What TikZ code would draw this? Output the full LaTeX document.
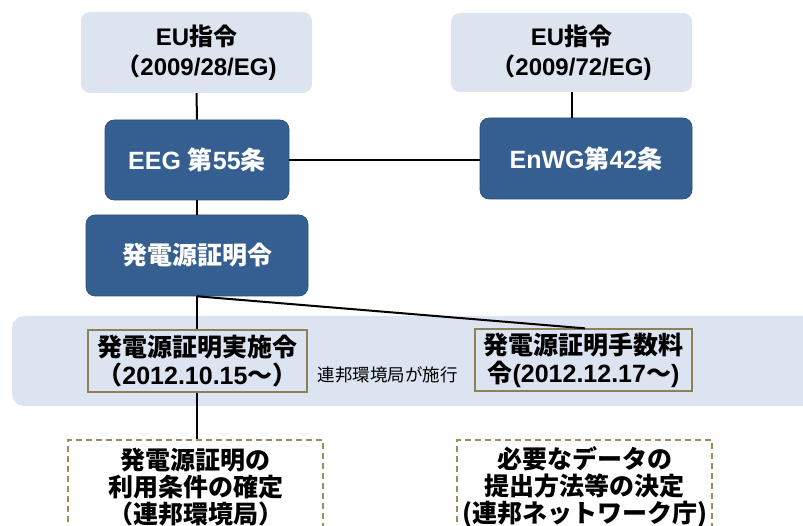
\documentclass[tikz,border=0pt]{standalone}
\usepackage{fontspec}
\setmainfont{Liberation Sans}
\newfontfamily\cjk{Noto Sans CJK JP}
\newcommand\J[1]{{\cjk #1}}
\definecolor{lightfill}{RGB}{220,228,240}
\definecolor{darkfill}{RGB}{54,95,145}
\definecolor{bandfill}{RGB}{219,228,240}
\definecolor{olive}{RGB}{140,128,88}
\definecolor{tan}{RGB}{160,140,90}
\tikzset{
  lightbox/.style={fill=lightfill, rounded corners=9pt, align=center, font=\bfseries\fontsize{24}{30}\selectfont, inner sep=0pt},
  darkbox/.style={fill=darkfill, draw=darkfill!80!black, line width=0.6pt, rounded corners=9pt, align=center, text=white, font=\bfseries\fontsize{25}{30}\selectfont, inner sep=0pt},
  lawbox/.style={fill=bandfill, draw=olive, line width=1.3pt, align=center, font=\bfseries\fontsize{25}{28}\selectfont, inner sep=0pt},
  taskbox/.style={draw=tan, dash pattern=on 6pt off 4pt, line width=1.2pt, align=center, font=\bfseries\fontsize{25}{27}\selectfont, inner sep=0pt},
  conn/.style={line width=2pt, black}
}
\begin{document}
\begin{tikzpicture}[x=1pt,y=-1pt]
\useasboundingbox (0,0) rectangle (803,526);
\clip (0,0) rectangle (803,526);
% band
\fill[bandfill, rounded corners=12pt] (12,316) rectangle (830,406);
% boxes
\node[lightbox, minimum width=231pt, minimum height=81pt] (eu1) at (196.5,52.5) {EU\J{指令}\\\J{（}2009/28/EG)};
\node[lightbox, minimum width=241pt, minimum height=79pt] (eu2) at (571.5,52.5) {EU\J{指令}\\\J{（}2009/72/EG)};
\node[darkbox, minimum width=184pt, minimum height=80pt] (eeg) at (197,160) {EEG \J{第}55\J{条}};
\node[darkbox, minimum width=212pt, minimum height=81pt] (enwg) at (586,158.5) {EnWG\J{第}42\J{条}};
\node[darkbox, minimum width=222pt, minimum height=81pt] (hatsu) at (197,255.5) {\J{発電源証明令}};
\node[lawbox, minimum width=219pt, minimum height=62pt] (jisshi) at (197.5,361) {\J{発電源証明実施令}\\\J{（}2012.10.15\J{～）}};
\node[lawbox, minimum width=217pt, minimum height=62pt] (tesu) at (583.5,360) {\J{発電源証明手数料}\\\J{令}(2012.12.17\J{～})};
\node[font=\fontsize{17.5}{20}\selectfont] (shiko) at (387.5,375) {\J{連邦環境局が施行}};
\node[taskbox, minimum width=255pt, minimum height=94pt] (task1) at (195.5,487) {\J{発電源証明の}\\\J{利用条件の確定}\\\J{（連邦環境局）}};
\node[taskbox, minimum width=255pt, minimum height=94pt] (task2) at (584.5,487) {\J{必要なデータの}\\\J{提出方法等の決定}\\\J{(連邦ネットワーク庁)}};
% connectors
\draw[conn] (eu1.south) -- (eeg.north);
\draw[conn] (eeg.east) -- (eeg.east -| enwg.west);
\draw[conn] (eu2.south) -- (eu2.south |- enwg.north);
\draw[conn] (eeg.south) -- (hatsu.north);
\draw[conn] (hatsu.south) -- (hatsu.south |- jisshi.north);
\draw[conn] (hatsu.south) -- ([xshift=1.5pt]tesu.north);
\draw[conn] (jisshi.south -| hatsu.south) -- (task1.north -| hatsu.south);
\end{tikzpicture}
\end{document}
